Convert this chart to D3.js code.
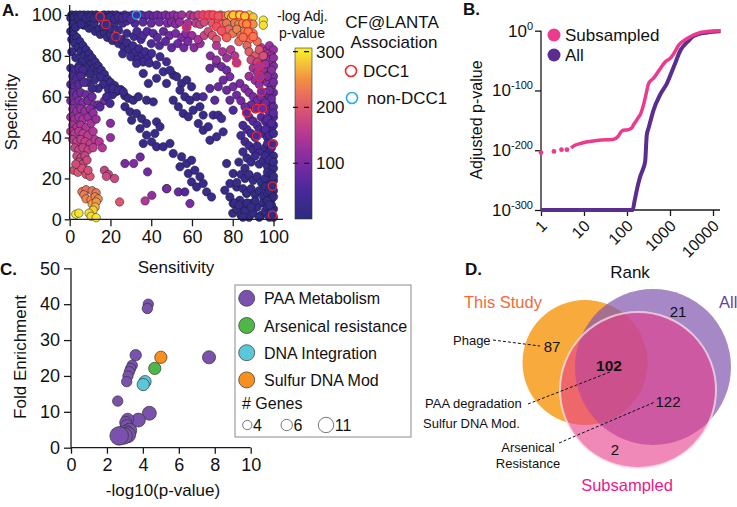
<!DOCTYPE html>
<html><head><meta charset="utf-8">
<script src="https://cdn.jsdelivr.net/npm/d3@7/dist/d3.min.js"></script>
<style>body{margin:0;background:#fff}svg{display:block;font-family:"Liberation Sans",Arial,sans-serif}</style>
</head><body><svg id="c" width="737" height="507"></svg>
<script>
// ---------------- Panel A data: [sensitivity, specificity, -log adj p] ----------------
const aTop = [[1,100,12],[3,100,12],[5,100,13],[7,100,14],[9,100,15],[11,100,16],[13,100,18],[17,100,22],[19,100,25],[21,100,30],[23,100,35],[25,99.5,45],[27,100,50],[29,99.5,58],[31,100,62],[35,100,70],[37,99.5,74],[39,100,78],[41,99.5,82],[43,100,88],[45,99.5,95],[47,100,100],[49,99.5,108],[51,100,115],[53,99.5,122],[55,100,130],[59,100,145],[61,99.5,155],[63,100,168],[67,99.5,190],[69,100,200],[74,100,215],[76,99.5,225],[78,100,270],[79.5,99,285],[82,100,290],[88,100,295],[90,99,280],[95,97.5,300],[95,95,295],
[2,97,12],[4,96.5,13],[6,97,14],[8,96.5,14],[10,97,16],[12,96,17],[19,96.5,24],[22,96,32],[26,96,45],[28,97,52],[32,96,62],[36,96.5,70],[40,96,78],[44,96.5,88],[48,96,98],[50,96.5,108],[52,95.5,112],[54,96.5,120],[58,96,138],[62,96,158],[64,95.5,170],[66,96.5,182],[70,96,200],[73,96.5,210],[75,95.5,220],[77,96,225],[81,96,235],[83,95.5,245],[85,96,250],[88,96,255],[90,95.5,250],
[2,99,11],[4,98.5,12],[6,99.5,13],[8,98.5,14],[10,99,15],[12,98.5,16],[14,99.5,18],[15.5,98,19],[16,99.8,20],[18,98.5,22],[20,99,26],[22,98,30],[24,99,36],[26,98.5,42],[28,99,48],[30,98,55],[0.5,98.5,11],[1.5,95.5,12],[3,94,13],[5.5,95.5,13]];
const aUpper = [[7,95,14],[9.5,93.5,15],[11,94.5,16],[12.5,92,16],[14.5,93,17],[15,90.5,18],[17,91.5,19],[18.5,89,20],[20,90.5,21],[21,87.5,22],[23,89,24],[24,86,25],[25.5,88,27],[26.5,84.5,27],[28,86.5,30],[29,83,30],[31,85,33],[32,81.5,33],[34,83.5,36],[35.5,80,36],[37,82,40],[38.5,79,40],[16.5,94.5,18],[20,93.5,22],[24,92.5,28],[28,91,34],[31.5,89.5,40],[35,88,46],[26,81,28],[30,79.5,31],[33,78,34],[36,77,37],[39,76.5,38],
[33,92,50],[36,90,55],[38,92,60],[41,91,66],[43,89,70],[46,92,78],[49,90,88],[52,91,98],[55,89,105],[57,91,112],[60,90,125],[40,86,58],[44,85,62],[47,87,70],[50,84,75],[53,86,82],[56,84,90],[58,87,100],[61,84,110],[64,86,125],[63,88,140]];
const aRightTop = [[66,90,175],[68,92,185],[70,90,195],[72,88,200],[76,91,215],[78,93,220],[80,91,230],[82,93,240],[84,90,235],[86,92,245],[88,88,235],[90,91,240],[92,87,225],[83,87,220],[87,85,215],[72,85,150],[75,82,140],[79,83,160],[81,80,150],[88,82,210],[91,80,205],[93,83,200],[95,80,190],[89,78,180],[92,77,170],[69,80,110],[72,78,120],[77,79,130]];
const aLowerBand = [[0.5,92,12],[2,90.5,13],[1,88,13],[3.5,89,14],[2.5,86,14],[5,87,15],[4,84,15],[6.5,85,16],[1,82,15],[5.5,82,16],[8,83,17],[7,80,17],[3,79,16],[9.5,81,18],[9,78,18],[11,79,19],[6,77,18],[10.5,76,19],[12.5,77,20],[4.5,75,18],[8,74,19],[12,74,20],[14,75,21],[13.5,72,21],[15.5,73,22],[10,71,20],[6,71,19],[17,71,23],[15,69.5,22],[18.5,68.5,24],[12,68,22],[20,67,25],[16.5,66,24],[22,65.5,26],[19,63.5,26],[14,64,27],[23,62.5,27],[25,63.5,26],[27,60.5,28],[21,61,28],[8.5,67,24],[11,64,27]];
const aLeft = [[0.5,74,40],[2.5,73,42],[4.5,74,40],[6.5,73,45],[1.5,70,50],[3.5,69,55],[5.5,70,52],[0.5,66,65],[2.5,65,70],[4.5,66,68],[7,67,60],
[1.5,62,85],[3.5,61,90],[5.5,62,88],[8,61,92],[0.5,58,100],[2.5,57,105],[4.5,58,102],[6.5,57,108],[9,58,100],[11,60,90],[12,56,105],
[1.5,54,118],[3.5,53,122],[5.5,54,120],[7.5,53,125],[10,54,115],[0.5,50,130],[2.5,49,135],[4.5,50,132],[6.5,49,138],[9,50,130],[11.5,52,120],[1.5,46,142],[3.5,45,146],[5.5,46,144],[8,45,148],[10.5,47,138],[13,49,125],
[0.5,43,152],[2.5,42,156],[4.5,43,154],[6.5,42,158],[9,41,160],[11.5,43,150],[1.5,39,162],[3.5,38,165],[5.5,39,163],[7.5,38,166],[10,37,164],[12.5,39,155],[2.5,35,170],[4.5,34,172],[6.5,35,170],[9,34,168],[11.5,35,163],[14.5,38,150],
[3.5,31,176],[5.5,30,178],[7.5,31,176],[4.5,28,182],[6.5,27,184],[8.5,29,180],
[2,24,192],[4,23,196],[6,25,190],[3,27,185],[8,22,194],[10,21,196],[9,24,188],[17,24,172],[19,22,176],[22,20,180],[18,21,182],[14,56,100],[17,58,95],[20,47,110],[20,40,120],[16,35,150]];
const aBottomLeft = [[24.5,8.5,200],[37,9,150],[40.3,11.7,120],[31.4,27.3,105],[34.6,30.5,90],[38.2,23.2,90],[47.7,15,100],
[6,13.5,230],[8,14.5,225],[11,14,228],[13,13,232],[7,12,235],[8,10,240],[10.5,9.5,248],[12.5,11,245],[14,10,248],[11,7.5,262],[13,8.5,255],[12.5,6,270],[11.5,4.5,285],[3,2.5,300],[4.5,3,298],[9.5,3,295],[10.5,1.5,292],[13,0.8,300]];
const aMiddle = [[21.4,64,35],[23.9,63.2,30],[26.3,62.4,28],[18.1,60,40],[19.8,56.7,45],[14.9,55,60],
[28.8,59.2,20],[31.2,58.3,20],[33.7,60,20],[37.7,58.3,22],[41,57.5,24],[27.1,55.1,20],[29.6,52.6,20],[32.8,51.8,20],[35.3,49.3,22],[37.7,46.9,22],[30.4,48.5,20],[34.5,44.4,22],[37.7,41.2,22],[40.2,37.9,24],[42.6,35.5,24],[45.9,35.5,26],[49.2,37.1,26],[50.8,32.2,28],[41.8,42,24],[42.6,47.7,24],[44.3,45.3,24],[36.1,37.1,22],[27.1,27.3,100],
[40.2,81.2,40],[44.3,79.6,40],[47.5,77.1,38],[42.6,75.5,35],[45.9,72.2,32],[42.6,69,30],[47.5,66.5,28],[50.8,70.6,30],[38.6,66.5,28],[36.1,71.4,30],[32.8,76.3,32],
[49.2,73,28],[52.5,69.8,26],[54.9,66.5,25],[57.4,68.1,26],[59.8,64.9,26],[54.1,63.2,24],[56.5,60,24],[59,58.3,24],[62.3,60,26],[50.8,58.3,24],[53.3,55.1,24],[55.7,51.8,24],[58.2,50.2,24],[60.6,53.4,25],[63.9,55.1,26],[65.5,51,28],[63.1,46.9,28],[65.5,43.6,30],[68,45.3,30],[70.4,51,32],[72.9,51,34],[74.5,49.3,36],[68.8,38.7,32],[72.1,40.4,34],[75.3,42.8,40],
[54.9,30.6,24],[57.4,27.3,24],[59.8,28.9,24],[54.1,25.7,24],[58.2,22.4,24],[61.4,24,26],[63.9,20.8,26],[59.8,18.3,26],[62.3,15.8,28],[65.5,17.5,28],[67.2,13.4,30],[69.6,10.9,30],[59,7.7,100],[53.3,13.4,80],[56.5,13.4,60],[47.5,15,100],
[77,27.3,24],[80.2,22.4,24],[78.6,17.5,24],[81.9,15.8,24],[76.1,14.2,26],[78.6,10.9,26],[80.2,7.7,24],[83.5,9.3,22],[86.8,12.6,22],[85.1,6,20],[88.4,7.7,20],
[68.8,73.9,80],[72.1,76.3,85],[74.5,74.7,90],[77,73,95],[78.6,69.8,95],[75.3,68.1,90],[72.9,64.9,80],[77,63.2,85],[80.2,64.9,95],[78.6,58.3,80],[81.9,60.8,90],[68.8,64,70],[65.5,60,60],[71.2,58.3,70],[83.5,66.5,100],[80.2,53.4,60]];
const aRight = [[94,84,150],[96,82,140],[98,85,130],[100,83,125],[97,79,135],[99,77,120],
[90,74,140],[92,72,130],[94,76,135],[96,73,125],[98,71,115],[100,75,110],[88,70,130],[91,68,125],[93,66,120],[95,69,115],[97,67,110],[99,65,105],[100,70,100],
[86,64,110],[88,62,105],[90,60,100],[92,58,95],[94,60,100],[96,62,95],[98,60,90],[100,62,85],[89,56,90],[91,54,85],[95,56,88],[97,54,82],[99,57,80],[100,55,75],[84,58,95],[86,55,85],
[88,50,70],[90,48,65],[92,46,60],[94,50,68],[96,48,62],[98,46,58],[100,50,55],[87,44,55],[89,42,50],[91,40,48],[93,44,52],[95,42,50],[97,40,45],[99,43,42],[100,46,40],[85,46,50],[84,41,45],[86,38,42],
[88,36,38],[90,34,35],[92,36,36],[94,33,32],[96,35,30],[98,33,28],[100,31,28],[87,30,30],[89,28,28],[91,31,30],[93,27,26],[95,29,26],[97,26,24],[99,28,22],[100,25,20],[85,33,35],[83,28,30],[86,25,26],
[84,22,24],[86,20,22],[88,22,22],[90,19,20],[92,21,20],[94,18,18],[96,20,18],[98,17,16],[100,19,15],[85,15,20],[87,13,18],[89,15,18],[91,12,16],[93,14,16],[95,11,15],[97,13,14],[99,10,14],[100,14,13],[82,18,24],
[80,3,20],[82,5,20],[84,2,18],[86,4,18],[88,1,16],[90,3,16],[92,6,15],[94,2,14],[96,4,14],[98,1,13],[100,5,12],[81,8,22],[83,7,20],[87,8,18],[91,9,16],[95,8,15],[99,7,13],[100,1,12],[85,1,17],[89,6,16],[93,1,14],[97,6,13],
[97,81,130],[99,80,125],[98,78,120],[100,79,118],[96,76,130],[99,73,112],[97,70,110],[100,67,100],[98,63,92],[99,59,85],[96,57,88],[98,52,75],[100,52,70],[97,49,65],[99,47,55],[96,44,55],[98,41,45],[100,42,40],[97,37,40],[99,35,35],[100,37,33],[96,31,30],[98,29,25],[100,28,24],[97,23,20],[99,22,18],[100,21,16],[96,16,17],[98,14,14],[100,11,12],[97,9,14],[99,4,12],[98,7,13]];
const aDCC1 = [[14.9,99.2,18],[17.8,95.4,20],[22.7,89.4,24],[57.4,93.9,135],[77,89,215],[81.9,76.6,150],[93,75,140],[93.3,69.6,125],[94.1,62.4,100],[91.7,54.2,85],[94.6,54.2,85],[86.8,52.1,65],[91.7,40.7,48],[99.5,36.8,38],[99.5,16.2,15],[99.5,2,12],[65.5,100,180],[68,100,190],[70.4,100,200],[72.9,99.5,205],[72.1,94.3,200],[74.5,92.3,205],[80.2,100,285],[83.5,100,290],[85.9,99.5,285],[86.8,95.6,250],[87.6,91.8,240],[90,89.4,235],[85.1,89.1,230]];
const aNonDCC1 = [[32.8,100,55]];
const aTicks = [0,20,40,60,80,100];
const cbTicks = [100,200,300];
const cStops = [0,50,100,150,200,250,300];
const cColors = ["#2b2c7e","#48299a","#7b2ba2","#b53795","#df566e","#f38e44","#f6ea2d"];

// ---------------- Panel B data: [rank, log10 adjusted p] ----------------
const bSubsampledDots = [[1,-204],[2,-202],[3,-199],[4,-199]];
const bSubsampled = [[5,-196],[6,-192],[8,-189],[10,-187],[15,-185],[25,-183],[47,-182],[62,-177],[75,-168],[91,-166],[100,-166],[128,-163],[143,-157],[160,-152],[184,-145],[205,-140],[240,-125],[270,-110],[320,-88],[420,-79],[600,-63],[780,-52],[1020,-46],[1230,-38],[1600,-24],[2500,-13],[5100,-3],[8000,-1],[15000,0]];
const bAll = [[1,-300],[135,-300],[150,-285],[170,-266],[205,-243],[240,-230],[265,-218],[288,-175],[320,-162],[355,-150],[405,-135],[600,-106],[850,-88],[1230,-60],[1780,-32],[2600,-18],[3550,-9],[7300,-3],[15000,-1]];
const bTicksX = [1,10,100,1000,10000];
const bTickLabelsX = ["1","10","100","1000","10000"];
const bTicksY = [0,-100,-200,-300];
const bSeriesNames = ["Subsampled","All"];

// ---------------- Panel C data: [-log10 p, fold enrichment, # genes] ----------------
const cPAA = [[4.3,40.0,5],[4.25,38.8,5],[3.6,25.8,6],[3.41,23.0,5],[3.32,22.1,5],[3.25,21.2,5],[3.17,20.0,5],[3.1,18.4,5],[2.6,13.0,5],[7.68,25.2,8],[4.36,9.6,9],[3.75,7.7,9],[3.15,7.9,7],[3.05,7.0,7],[3.1,6.0,8],[3.25,4.8,10],[3.05,4.2,11],[3.15,3.6,12],[2.95,3.3,13],[2.68,3.3,16]];
const cArsenical = [[4.66,22.1,7]];
const cDNA = [[4.12,18.4,7],[4.02,17.6,7]];
const cSulfur = [[5.0,25.2,7]];
const cCategories = ["PAA Metabolism","Arsenical resistance","DNA Integration","Sulfur DNA Mod"];
const cCatColors = ["#7a52ad","#4db848","#5cc7d9","#f7901e"];
const cTicksX = [0,2,4,6,8,10];
const cTicksY = [0,10,20,30,40,50];
const cGeneLegend = [4,6,11];

// ---------------- Panel D data ----------------
const dSets = ["This Study","All","Subsampled"];
const dCounts = [87,21,102,122,2];

const svg = d3.select("#c");
const F = '"Liberation Sans",Arial,sans-serif';
const AX = "#1a1a1a";

function txt(g,x,y,s,opt={}){
  const t=g.append("text").attr("x",x).attr("y",y).text(s)
    .attr("font-size",opt.size||16).attr("fill",opt.fill||"#111")
    .attr("text-anchor",opt.anchor||"start");
  if(opt.weight) t.attr("font-weight",opt.weight);
  if(opt.rotate!==undefined) t.attr("transform",`rotate(${opt.rotate},${x},${y})`);
  return t;
}
function styleAxis(g){
  g.selectAll("path.domain").remove();
  g.selectAll(".tick line").attr("stroke",AX).attr("stroke-width",1.3);
  g.selectAll(".tick text").attr("fill","#111").attr("font-family",F);
}

// ================= Panel A =================
const xA = d3.scaleLinear([0,100],[69.7,273.5]);
const yA = d3.scaleLinear([0,100],[219.3,15]);
const colA = d3.scaleLinear().domain(cStops).range(cColors).clamp(true);
const gA = svg.append("g");
const allA = [].concat(aLowerBand,aUpper,aLeft,aMiddle,aRight,aTop,aRightTop,aBottomLeft);
gA.append("g").selectAll("circle").data(allA).join("circle")
  .attr("cx",d=>xA(d[0])).attr("cy",d=>yA(d[1])).attr("r",4.2)
  .attr("fill",d=>colA(d[2])).attr("stroke","#1b1b2b").attr("stroke-width",0.6).attr("stroke-opacity",0.85);
gA.append("g").selectAll("circle").data(aDCC1).join("circle")
  .attr("cx",d=>xA(d[0])).attr("cy",d=>yA(d[1])).attr("r",4.2)
  .attr("fill",d=>colA(d[2])).attr("stroke","#ee2a2e").attr("stroke-width",1.2);
gA.append("g").selectAll("circle").data(aNonDCC1).join("circle")
  .attr("cx",d=>xA(d[0])).attr("cy",d=>yA(d[1])).attr("r",4.2)
  .attr("fill",d=>colA(d[2])).attr("stroke","#27aee8").attr("stroke-width",1.2);
const axAx = gA.append("g").attr("transform","translate(0,219.3)")
  .call(d3.axisBottom(xA).tickValues(aTicks).tickSize(7).tickPadding(4));
styleAxis(axAx); axAx.selectAll(".tick text").attr("font-size",18);
const axAy = gA.append("g").attr("transform","translate(69.7,0)")
  .call(d3.axisLeft(yA).tickValues(aTicks).tickSize(5).tickPadding(3));
styleAxis(axAy); axAy.selectAll(".tick text").attr("font-size",18);
gA.append("line").attr("x1",69.7).attr("x2",283).attr("y1",219.3).attr("y2",219.3).attr("stroke",AX).attr("stroke-width",1.3);
gA.append("line").attr("x1",69.7).attr("x2",69.7).attr("y1",5).attr("y2",219.3).attr("stroke",AX).attr("stroke-width",1.3);
txt(gA,2,16,"A.",{size:17,weight:"bold"});
txt(gA,17,112,"Specificity",{size:17,anchor:"middle",rotate:-90});
txt(gA,176,273,"Sensitivity",{size:17,anchor:"middle"});
const cb = d3.scaleLinear([0,300],[219,51.7]);
const defs = svg.append("defs");
const grad = defs.append("linearGradient").attr("id","cbg").attr("x1",0).attr("x2",0).attr("y1",1).attr("y2",0);
const cbTop = cb.invert(48);
cStops.forEach(v=>grad.append("stop").attr("offset",v/cbTop).attr("stop-color",colA(v)));
grad.append("stop").attr("offset",1).attr("stop-color",colA(300));
gA.append("rect").attr("x",295).attr("y",48).attr("width",17).attr("height",219-48).attr("fill","url(#cbg)").attr("stroke","#333").attr("stroke-width",0.6);
cbTicks.forEach(v=>{
  gA.append("line").attr("x1",293).attr("x2",314).attr("y1",cb(v)).attr("y2",cb(v)).attr("stroke","#111").attr("stroke-width",1.2).attr("stroke-dasharray","5,6");
  txt(gA,316,cb(v)+6,String(v),{size:17});
});
txt(gA,277,21,"-log Adj.",{size:14});
txt(gA,279,38,"p-value",{size:14});
txt(gA,392,28,"CF@LANTA",{size:17,anchor:"middle"});
txt(gA,394,48,"Association",{size:17,anchor:"middle"});
gA.append("circle").attr("cx",351).attr("cy",71).attr("r",5.5).attr("fill","none").attr("stroke","#ee2a2e").attr("stroke-width",1.6);
txt(gA,363,77,"DCC1",{size:17});
gA.append("circle").attr("cx",352).attr("cy",98).attr("r",5.5).attr("fill","none").attr("stroke","#27aee8").attr("stroke-width",1.6);
txt(gA,367,104,"non-DCC1",{size:17});

// ================= Panel B =================
const xB = d3.scaleLog([1,10000],[541,713]);
const yB = d3.scaleLinear([-300,0],[210,30.7]);
const gB = svg.append("g");
const bPink="#ec3a8d", bPurple="#5a2d91";
const lineB = d3.line().x(d=>xB(d[0])).y(d=>yB(d[1])).curve(d3.curveMonotoneX);
gB.append("line").attr("x1",541).attr("x2",720).attr("y1",210).attr("y2",210).attr("stroke",AX).attr("stroke-width",1.3);
gB.append("line").attr("x1",541).attr("x2",541).attr("y1",30.7).attr("y2",210).attr("stroke",AX).attr("stroke-width",1.3);
const axBx = gB.append("g").attr("transform","translate(0,210)").call(d3.axisBottom(xB).tickValues(bTicksX).tickSize(6).tickFormat(""));
styleAxis(axBx);
const axBy = gB.append("g").attr("transform","translate(541,0)").call(d3.axisLeft(yB).tickValues(bTicksY).tickSize(6).tickFormat(""));
styleAxis(axBy);
bTicksY.forEach(v=>{
  const t=gB.append("text").attr("x",533).attr("y",yB(v)+6).attr("text-anchor","end").attr("font-size",17).attr("fill","#111");
  t.append("tspan").text("10");
  t.append("tspan").attr("dy",-7).attr("font-size",11).text(String(v));
});
bTicksX.forEach((v,i)=>{
  const x=xB(v)+3, y=223;
  gB.append("text").attr("x",x).attr("y",y).attr("dy","0.35em").attr("text-anchor","end").attr("font-size",16).attr("fill","#111")
    .attr("transform",`rotate(-45,${x},${y})`).text(bTickLabelsX[i]);
});
gB.append("path").datum(bAll).attr("d",lineB).attr("fill","none").attr("stroke",bPurple).attr("stroke-width",4);
gB.append("path").datum(bSubsampled).attr("d",lineB).attr("fill","none").attr("stroke",bPink).attr("stroke-width",3.5);
gB.selectAll("circle.sd").data(bSubsampledDots).join("circle").attr("class","sd")
  .attr("cx",d=>xB(d[0])).attr("cy",d=>yB(d[1])).attr("r",2.4).attr("fill",bPink);
txt(gB,463,15,"B.",{size:17,weight:"bold"});
txt(gB,482,120,"Adjusted p-value",{size:16,anchor:"middle",rotate:-90});
txt(gB,630,278,"Rank",{size:17,anchor:"middle"});
[bPink,bPurple].forEach((c,i)=>{
  gB.append("circle").attr("cx",554).attr("cy",35+i*20).attr("r",6.5).attr("fill",c);
  txt(gB,565,41+i*20,bSeriesNames[i],{size:17});
});

// ================= Panel C =================
const xC = d3.scaleLinear([0,10],[71,250.7]);
const yC = d3.scaleLinear([0,50],[447.7,268.3]);
const rC = d3.scaleSqrt([0,11],[0,7.7]);
const gC = svg.append("g");
const axCx = gC.append("g").attr("transform","translate(0,447.7)").call(d3.axisBottom(xC).tickValues(cTicksX).tickSize(6).tickPadding(5));
styleAxis(axCx); axCx.selectAll(".tick text").attr("font-size",18);
const axCy = gC.append("g").attr("transform","translate(71,0)").call(d3.axisLeft(yC).tickValues(cTicksY).tickSize(7).tickPadding(4));
styleAxis(axCy); axCy.selectAll(".tick text").attr("font-size",18);
gC.append("line").attr("x1",71).attr("x2",250.7).attr("y1",447.7).attr("y2",447.7).attr("stroke",AX).attr("stroke-width",1.3);
gC.append("line").attr("x1",71).attr("x2",71).attr("y1",268.3).attr("y2",447.7).attr("stroke",AX).attr("stroke-width",1.3);
[cPAA,cArsenical,cDNA,cSulfur].forEach((arr,i)=>{
  gC.append("g").selectAll("circle").data(arr).join("circle")
    .attr("cx",d=>xC(d[0])).attr("cy",d=>yC(d[1])).attr("r",d=>rC(d[2]))
    .attr("fill",cCatColors[i]).attr("stroke","#333").attr("stroke-width",0.7);
});
txt(gC,0,275,"C.",{size:17,weight:"bold"});
txt(gC,26,357,"Fold Enrichment",{size:17,anchor:"middle",rotate:-90});
txt(gC,163,496,"-log10(p-value)",{size:17,anchor:"middle"});
gC.append("rect").attr("x",235).attr("y",285).attr("width",176).attr("height",152).attr("fill","#fff").attr("stroke","#8a8a8a").attr("stroke-width",1);
cCategories.forEach((c,i)=>{
  const y=298.3+i*27.2;
  gC.append("circle").attr("cx",246.7).attr("cy",y).attr("r",8).attr("fill",cCatColors[i]).attr("stroke","#333").attr("stroke-width",0.7);
  txt(gC,264,y+6,c,{size:16});
});
txt(gC,242,409,"# Genes",{size:16});
const gx=[247.3,286.7,326];
cGeneLegend.forEach((g,i)=>{
  gC.append("circle").attr("cx",gx[i]).attr("cy",425).attr("r",rC(g)).attr("fill","#fff").attr("stroke","#555").attr("stroke-width",0.8);
  txt(gC,gx[i]+rC(g)+1,431,String(g),{size:16});
});

// ================= Panel D =================
const gD = svg.append("g");
gD.append("circle").attr("cx",585).attr("cy",362.5).attr("r",62.5).attr("fill","#f9aa3c");
gD.append("circle").attr("cx",653).attr("cy",367).attr("r",78).attr("fill","#845ab2").attr("fill-opacity",0.72);
gD.append("circle").attr("cx",638).attr("cy",390).attr("r",78).attr("fill","#e63a88").attr("fill-opacity",0.6)
  .attr("stroke","#fbe8f0").attr("stroke-width",2).attr("stroke-opacity",0.7);
txt(gD,465,275,"D.",{size:17,weight:"bold"});
txt(gD,503,308,dSets[0],{size:16.5,anchor:"middle",fill:"#f26a3a"});
txt(gD,719,308,dSets[1],{size:16.5,fill:"#6b3fa0"});
txt(gD,627,491,dSets[2],{size:16.5,anchor:"middle",fill:"#e8198b"});
txt(gD,552,352,String(dCounts[0]),{size:15,anchor:"middle"});
txt(gD,678,317,String(dCounts[1]),{size:15,anchor:"middle"});
txt(gD,609,371,String(dCounts[2]),{size:15.5,anchor:"middle",weight:"bold"});
txt(gD,668,407,String(dCounts[3]),{size:15,anchor:"middle"});
txt(gD,615,455,String(dCounts[4]),{size:15,anchor:"middle"});
const dash = (x1,y1,x2,y2)=>gD.append("line").attr("x1",x1).attr("y1",y1).attr("x2",x2).attr("y2",y2).attr("stroke","#111").attr("stroke-width",1).attr("stroke-dasharray","3,2");
dash(493,340,540,346);
dash(528,404,610,372);
dash(559,443,655,402);
txt(gD,453,345,"Phage",{size:13});
txt(gD,425,408,"PAA degradation",{size:13});
txt(gD,423,428,"Sulfur DNA Mod.",{size:13});
txt(gD,528,452,"Arsenical",{size:13,anchor:"middle"});
txt(gD,528,468,"Resistance",{size:13,anchor:"middle"});
</script></body></html>
